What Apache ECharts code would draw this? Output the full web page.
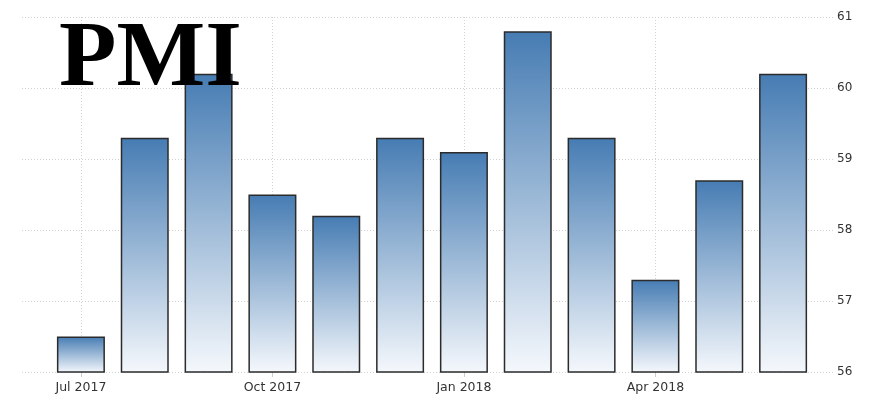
<!DOCTYPE html>
<html><head><meta charset="utf-8">
<script src="https://cdn.jsdelivr.net/npm/echarts@6/dist/echarts.min.js"></script>
<style>html,body{margin:0;padding:0;background:#fff}#c{width:881px;height:412px}</style>
</head><body><div id="c"></div>
<script>
const categories = ['Jul 2017','Aug 2017','Sep 2017','Oct 2017','Nov 2017','Dec 2017','Jan 2018','Feb 2018','Mar 2018','Apr 2018','May 2018','Jun 2018'];
const pmiValues = [56.5, 59.3, 60.2, 58.5, 58.2, 59.3, 59.1, 60.8, 59.3, 57.3, 58.7, 60.2];
const yTicks = [56, 57, 58, 59, 60, 61];
const labelledMonths = ['Jul 2017', 'Oct 2017', 'Jan 2018', 'Apr 2018'];
const titleText = 'PMI';

const chart = echarts.init(document.getElementById('c'));
const yMin = yTicks[0], yMax = yTicks[yTicks.length - 1];
const dotted = {color: '#d2d2d2', type: [1, 2], width: 1};
chart.setOption({
  animation: false,
  backgroundColor: '#fff',
  title: {
    text: titleText, left: 54, top: 9,
    textStyle: {fontFamily: 'Liberation Serif', fontWeight: 'bold', fontSize: 94, lineHeight: 94, color: '#000'}
  },
  grid: [
    {left: 22, right: 46, top: 17, bottom: 40},
    {left: 49, right: 66, top: 17, bottom: 40}
  ],
  xAxis: [
    {gridIndex: 0, type: 'category', data: categories, show: false},
    {gridIndex: 1, type: 'category', data: categories,
     axisLine: {show: false},
     axisTick: {show: true, alignWithLabel: true, interval: 2, length: 5, lineStyle: {color: '#ccc'}},
     axisLabel: {interval: 2, margin: 9, fontFamily: 'DejaVu Sans', fontSize: 12.5, color: '#333'},
     splitLine: {show: false}
    }
  ],
  yAxis: [
    {gridIndex: 0, type: 'value', position: 'right', min: yMin, max: yMax, interval: 1,
     axisLine: {show: false}, axisTick: {show: false},
     axisLabel: {margin: 2, fontFamily: 'DejaVu Sans', fontSize: 12, color: '#333'},
     splitLine: {show: true, lineStyle: dotted}},
    {gridIndex: 1, type: 'value', min: yMin, max: yMax, interval: 1, show: false, splitLine: {show: false}}
  ],
  series: [{
    type: 'bar', xAxisIndex: 1, yAxisIndex: 1,
    data: pmiValues, barWidth: 48, z: 3,
    itemStyle: {
      borderColor: '#2b2b2b', borderWidth: 1.5, borderRadius: 0,
      color: new echarts.graphic.LinearGradient(0, 0, 0, 1, [
        {offset: 0, color: '#467cb3'},
        {offset: 1, color: '#f5f8fc'}
      ])
    },
    markLine: {
      silent: true, symbol: 'none', z: 1,
      label: {show: false},
      lineStyle: dotted,
      emphasis: {disabled: true},
      data: labelledMonths.map(m => ({xAxis: m}))
    }
  }]
});
</script></body></html>
